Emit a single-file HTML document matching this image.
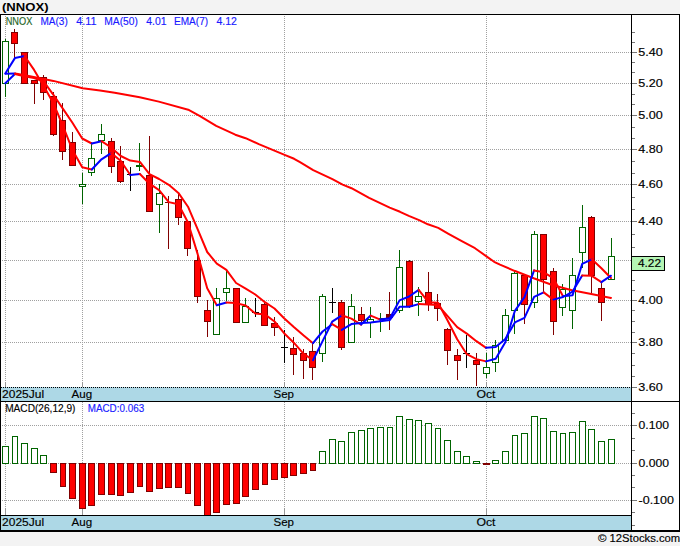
<!DOCTYPE html>
<html><head><meta charset="utf-8"><title>NNOX</title>
<style>html,body{margin:0;padding:0;background:#f3f3f3;}body{width:680px;height:546px;position:relative;overflow:hidden;font-family:"Liberation Sans",sans-serif;}</style>
</head><body>
<svg width="680" height="546" viewBox="0 0 680 546" style="position:absolute;left:0;top:0">
<rect x="0" y="0" width="680" height="546" fill="#f3f3f3"/>
<rect x="0" y="14" width="680" height="518" fill="#ffffff"/>
<rect x="1" y="387" width="630" height="14" fill="#add8e6"/>
<rect x="1" y="516" width="630" height="14" fill="#add8e6"/>
<g stroke="#a0a0a0" stroke-width="1" stroke-dasharray="1,1" shape-rendering="crispEdges">
<line x1="2" x2="631" y1="52.5" y2="52.5"/>
<line x1="2" x2="631" y1="83.5" y2="83.5"/>
<line x1="2" x2="631" y1="115.5" y2="115.5"/>
<line x1="2" x2="631" y1="149.5" y2="149.5"/>
<line x1="2" x2="631" y1="184.5" y2="184.5"/>
<line x1="2" x2="631" y1="221.5" y2="221.5"/>
<line x1="2" x2="631" y1="260.5" y2="260.5"/>
<line x1="2" x2="631" y1="300.5" y2="300.5"/>
<line x1="2" x2="631" y1="342.5" y2="342.5"/>
<line x1="2" x2="631" y1="425.5" y2="425.5"/>
<line x1="2" x2="631" y1="463.5" y2="463.5"/>
<line x1="2" x2="631" y1="500.5" y2="500.5"/>
<line x1="5.5" x2="5.5" y1="16" y2="387"/>
<line x1="5.5" x2="5.5" y1="402" y2="515"/>
<line x1="82.5" x2="82.5" y1="16" y2="387"/>
<line x1="82.5" x2="82.5" y1="402" y2="515"/>
<line x1="284.5" x2="284.5" y1="16" y2="387"/>
<line x1="284.5" x2="284.5" y1="402" y2="515"/>
<line x1="486.5" x2="486.5" y1="16" y2="387"/>
<line x1="486.5" x2="486.5" y1="402" y2="515"/>
</g>
<line x1="1" x2="631" y1="387.5" y2="387.5" stroke="#000" stroke-width="1" stroke-dasharray="1,1" shape-rendering="crispEdges"/>
<g stroke="#999" stroke-width="1" shape-rendering="crispEdges">
<line x1="5.5" x2="5.5" y1="382" y2="387"/>
<line x1="5.5" x2="5.5" y1="508" y2="515"/>
<line x1="82.5" x2="82.5" y1="382" y2="387"/>
<line x1="82.5" x2="82.5" y1="508" y2="515"/>
<line x1="284.5" x2="284.5" y1="382" y2="387"/>
<line x1="284.5" x2="284.5" y1="508" y2="515"/>
<line x1="486.5" x2="486.5" y1="382" y2="387"/>
<line x1="486.5" x2="486.5" y1="508" y2="515"/>
</g>
<g shape-rendering="crispEdges" stroke-width="1">
<rect x="2.5" y="446.5" width="6" height="17.0" fill="#fff" stroke="#006400"/>
<rect x="12.5" y="436.5" width="5" height="27.0" fill="#fff" stroke="#006400"/>
<rect x="21.5" y="443.5" width="6" height="20.0" fill="#fff" stroke="#006400"/>
<rect x="31.5" y="448.5" width="6" height="15.0" fill="#fff" stroke="#006400"/>
<rect x="40.5" y="455.5" width="6" height="8.0" fill="#fff" stroke="#006400"/>
<rect x="50.5" y="463.5" width="6" height="8.5" fill="#ff0000" stroke="#800000"/>
<rect x="60.5" y="463.5" width="5" height="22.5" fill="#ff0000" stroke="#800000"/>
<rect x="69.5" y="463.5" width="6" height="34.5" fill="#ff0000" stroke="#800000"/>
<rect x="79.5" y="463.5" width="6" height="44.5" fill="#ff0000" stroke="#800000"/>
<rect x="88.5" y="463.5" width="6" height="41.5" fill="#ff0000" stroke="#800000"/>
<rect x="98.5" y="463.5" width="6" height="30.5" fill="#ff0000" stroke="#800000"/>
<rect x="108.5" y="463.5" width="6" height="30.5" fill="#ff0000" stroke="#800000"/>
<rect x="117.5" y="463.5" width="6" height="31.5" fill="#ff0000" stroke="#800000"/>
<rect x="127.5" y="463.5" width="6" height="28.5" fill="#ff0000" stroke="#800000"/>
<rect x="137.5" y="463.5" width="5" height="22.5" fill="#ff0000" stroke="#800000"/>
<rect x="146.5" y="463.5" width="6" height="27.5" fill="#ff0000" stroke="#800000"/>
<rect x="156.5" y="463.5" width="6" height="24.5" fill="#ff0000" stroke="#800000"/>
<rect x="165.5" y="463.5" width="6" height="23.5" fill="#ff0000" stroke="#800000"/>
<rect x="175.5" y="463.5" width="6" height="23.5" fill="#ff0000" stroke="#800000"/>
<rect x="185.5" y="463.5" width="5" height="29.5" fill="#ff0000" stroke="#800000"/>
<rect x="194.5" y="463.5" width="6" height="41.5" fill="#ff0000" stroke="#800000"/>
<rect x="204.5" y="463.5" width="6" height="51.5" fill="#ff0000" stroke="#800000"/>
<rect x="213.5" y="463.5" width="6" height="48.5" fill="#ff0000" stroke="#800000"/>
<rect x="223.5" y="463.5" width="6" height="40.5" fill="#ff0000" stroke="#800000"/>
<rect x="233.5" y="463.5" width="6" height="39.5" fill="#ff0000" stroke="#800000"/>
<rect x="242.5" y="463.5" width="6" height="32.5" fill="#ff0000" stroke="#800000"/>
<rect x="252.5" y="463.5" width="6" height="25.5" fill="#ff0000" stroke="#800000"/>
<rect x="262.5" y="463.5" width="5" height="20.5" fill="#ff0000" stroke="#800000"/>
<rect x="271.5" y="463.5" width="6" height="15.5" fill="#ff0000" stroke="#800000"/>
<rect x="281.5" y="463.5" width="6" height="13.5" fill="#ff0000" stroke="#800000"/>
<rect x="290.5" y="463.5" width="6" height="11.5" fill="#ff0000" stroke="#800000"/>
<rect x="300.5" y="463.5" width="6" height="9.5" fill="#ff0000" stroke="#800000"/>
<rect x="310.5" y="463.5" width="5" height="6.5" fill="#ff0000" stroke="#800000"/>
<rect x="319.5" y="451.5" width="6" height="12.0" fill="#fff" stroke="#006400"/>
<rect x="329.5" y="439.5" width="6" height="24.0" fill="#fff" stroke="#006400"/>
<rect x="338.5" y="441.5" width="6" height="22.0" fill="#fff" stroke="#006400"/>
<rect x="348.5" y="432.5" width="6" height="31.0" fill="#fff" stroke="#006400"/>
<rect x="358.5" y="430.5" width="6" height="33.0" fill="#fff" stroke="#006400"/>
<rect x="367.5" y="428.5" width="6" height="35.0" fill="#fff" stroke="#006400"/>
<rect x="377.5" y="427.5" width="6" height="36.0" fill="#fff" stroke="#006400"/>
<rect x="387.5" y="427.5" width="5" height="36.0" fill="#fff" stroke="#006400"/>
<rect x="396.5" y="416.5" width="6" height="47.0" fill="#fff" stroke="#006400"/>
<rect x="406.5" y="419.5" width="6" height="44.0" fill="#fff" stroke="#006400"/>
<rect x="415.5" y="420.5" width="6" height="43.0" fill="#fff" stroke="#006400"/>
<rect x="425.5" y="423.5" width="6" height="40.0" fill="#fff" stroke="#006400"/>
<rect x="435.5" y="428.5" width="5" height="35.0" fill="#fff" stroke="#006400"/>
<rect x="444.5" y="440.5" width="6" height="23.0" fill="#fff" stroke="#006400"/>
<rect x="454.5" y="451.5" width="6" height="12.0" fill="#fff" stroke="#006400"/>
<rect x="463.5" y="456.5" width="6" height="7.0" fill="#fff" stroke="#006400"/>
<rect x="473.5" y="461.5" width="6" height="2.0" fill="#fff" stroke="#006400"/>
<rect x="483" y="463.0" width="7" height="2" fill="#800000" stroke="none"/>
<rect x="492.5" y="460.5" width="6" height="3.0" fill="#fff" stroke="#006400"/>
<rect x="502.5" y="451.5" width="6" height="12.0" fill="#fff" stroke="#006400"/>
<rect x="512.5" y="435.5" width="5" height="28.0" fill="#fff" stroke="#006400"/>
<rect x="521.5" y="433.5" width="6" height="30.0" fill="#fff" stroke="#006400"/>
<rect x="531.5" y="416.5" width="6" height="47.0" fill="#fff" stroke="#006400"/>
<rect x="540.5" y="418.5" width="6" height="45.0" fill="#fff" stroke="#006400"/>
<rect x="550.5" y="431.5" width="6" height="32.0" fill="#fff" stroke="#006400"/>
<rect x="560.5" y="433.5" width="5" height="30.0" fill="#fff" stroke="#006400"/>
<rect x="569.5" y="432.5" width="6" height="31.0" fill="#fff" stroke="#006400"/>
<rect x="579.5" y="421.5" width="6" height="42.0" fill="#fff" stroke="#006400"/>
<rect x="588.5" y="429.5" width="6" height="34.0" fill="#fff" stroke="#006400"/>
<rect x="598.5" y="441.5" width="6" height="22.0" fill="#fff" stroke="#006400"/>
<rect x="608.5" y="439.5" width="6" height="24.0" fill="#fff" stroke="#006400"/>
</g>
<g shape-rendering="crispEdges" stroke-width="1">
<line x1="5.5" x2="5.5" y1="39.0" y2="97.0" stroke="#006400"/>
<rect x="2.5" y="41.5" width="6" height="42.0" fill="#fff" stroke="#006400"/>
<line x1="14.5" x2="14.5" y1="29.0" y2="58.0" stroke="#800000"/>
<rect x="11.5" y="32.5" width="6" height="11.0" fill="#ff0000" stroke="#800000"/>
<line x1="24.5" x2="24.5" y1="52.0" y2="84.0" stroke="#800000"/>
<rect x="21.5" y="52.5" width="6" height="31.0" fill="#ff0000" stroke="#800000"/>
<line x1="34.5" x2="34.5" y1="80.0" y2="104.0" stroke="#800000"/>
<rect x="31.5" y="80.5" width="6" height="3.0" fill="#ff0000" stroke="#800000"/>
<line x1="43.5" x2="43.5" y1="75.0" y2="100.0" stroke="#800000"/>
<rect x="40.5" y="77.5" width="6" height="15.0" fill="#ff0000" stroke="#800000"/>
<line x1="53.5" x2="53.5" y1="92.0" y2="136.0" stroke="#800000"/>
<rect x="50.5" y="96.5" width="6" height="38.0" fill="#ff0000" stroke="#800000"/>
<line x1="62.5" x2="62.5" y1="103.0" y2="160.0" stroke="#800000"/>
<rect x="59.5" y="120.5" width="6" height="31.0" fill="#ff0000" stroke="#800000"/>
<line x1="72.5" x2="72.5" y1="132.0" y2="165.0" stroke="#800000"/>
<rect x="69.5" y="142.5" width="6" height="23.0" fill="#ff0000" stroke="#800000"/>
<line x1="82.5" x2="82.5" y1="173.0" y2="204.0" stroke="#006400"/>
<rect x="79.5" y="184.5" width="6" height="2.0" fill="#fff" stroke="#006400"/>
<line x1="91.5" x2="91.5" y1="142.0" y2="176.0" stroke="#006400"/>
<rect x="88.5" y="158.5" width="6" height="14.0" fill="#fff" stroke="#006400"/>
<line x1="101.5" x2="101.5" y1="124.0" y2="154.0" stroke="#006400"/>
<rect x="98.5" y="134.5" width="6" height="6.0" fill="#fff" stroke="#006400"/>
<line x1="111.5" x2="111.5" y1="138.0" y2="173.0" stroke="#800000"/>
<rect x="108.5" y="141.5" width="6" height="25.0" fill="#ff0000" stroke="#800000"/>
<line x1="120.5" x2="120.5" y1="146.0" y2="183.0" stroke="#800000"/>
<rect x="117.5" y="161.5" width="6" height="20.0" fill="#ff0000" stroke="#800000"/>
<line x1="130.5" x2="130.5" y1="167.0" y2="191.0" stroke="#000"/>
<rect x="127.0" y="174.0" width="7" height="1.0" fill="#000" stroke="none"/>
<line x1="139.5" x2="139.5" y1="143.0" y2="171.0" stroke="#006400"/>
<rect x="136.0" y="165.0" width="7" height="2" fill="#006400" stroke="none"/>
<line x1="149.5" x2="149.5" y1="136.0" y2="212.0" stroke="#800000"/>
<rect x="146.5" y="175.5" width="6" height="36.0" fill="#ff0000" stroke="#800000"/>
<line x1="159.5" x2="159.5" y1="184.0" y2="233.0" stroke="#006400"/>
<rect x="156.5" y="193.5" width="6" height="11.0" fill="#fff" stroke="#006400"/>
<line x1="168.5" x2="168.5" y1="196.0" y2="249.0" stroke="#800000"/>
<rect x="165.0" y="202.0" width="7" height="1.0" fill="#800000" stroke="none"/>
<line x1="178.5" x2="178.5" y1="194.0" y2="225.0" stroke="#800000"/>
<rect x="175.5" y="199.5" width="6" height="18.0" fill="#ff0000" stroke="#800000"/>
<line x1="187.5" x2="187.5" y1="221.0" y2="256.0" stroke="#800000"/>
<rect x="184.5" y="221.5" width="6" height="27.0" fill="#ff0000" stroke="#800000"/>
<line x1="197.5" x2="197.5" y1="250.0" y2="303.0" stroke="#800000"/>
<rect x="194.5" y="260.5" width="6" height="36.0" fill="#ff0000" stroke="#800000"/>
<line x1="207.5" x2="207.5" y1="300.0" y2="337.0" stroke="#800000"/>
<rect x="204.5" y="310.5" width="6" height="11.0" fill="#ff0000" stroke="#800000"/>
<line x1="216.5" x2="216.5" y1="288.0" y2="334.0" stroke="#006400"/>
<rect x="213.5" y="298.5" width="6" height="36.0" fill="#fff" stroke="#006400"/>
<line x1="226.5" x2="226.5" y1="270.0" y2="301.0" stroke="#006400"/>
<rect x="223.5" y="288.5" width="6" height="4.0" fill="#fff" stroke="#006400"/>
<line x1="236.5" x2="236.5" y1="288.0" y2="322.0" stroke="#800000"/>
<rect x="233.5" y="288.5" width="6" height="34.0" fill="#ff0000" stroke="#800000"/>
<line x1="245.5" x2="245.5" y1="298.0" y2="322.0" stroke="#006400"/>
<rect x="242.5" y="306.5" width="6" height="16.0" fill="#fff" stroke="#006400"/>
<line x1="255.5" x2="255.5" y1="298.0" y2="317.0" stroke="#000"/>
<rect x="252.0" y="312.0" width="7" height="1.0" fill="#000" stroke="none"/>
<line x1="264.5" x2="264.5" y1="303.0" y2="326.0" stroke="#800000"/>
<rect x="261.5" y="304.5" width="6" height="21.0" fill="#ff0000" stroke="#800000"/>
<line x1="274.5" x2="274.5" y1="317.0" y2="336.0" stroke="#800000"/>
<rect x="271.5" y="323.5" width="6" height="4.0" fill="#ff0000" stroke="#800000"/>
<line x1="284.5" x2="284.5" y1="330.0" y2="363.0" stroke="#000"/>
<rect x="281.0" y="347.0" width="7" height="1.0" fill="#000" stroke="none"/>
<line x1="293.5" x2="293.5" y1="337.0" y2="375.0" stroke="#800000"/>
<rect x="290.5" y="348.5" width="6" height="6.0" fill="#ff0000" stroke="#800000"/>
<line x1="303.5" x2="303.5" y1="349.0" y2="379.0" stroke="#800000"/>
<rect x="300.5" y="353.5" width="6" height="7.0" fill="#ff0000" stroke="#800000"/>
<line x1="312.5" x2="312.5" y1="343.0" y2="380.0" stroke="#800000"/>
<rect x="309.5" y="351.5" width="6" height="16.0" fill="#ff0000" stroke="#800000"/>
<line x1="322.5" x2="322.5" y1="294.0" y2="362.0" stroke="#006400"/>
<rect x="319.5" y="296.5" width="6" height="57.0" fill="#fff" stroke="#006400"/>
<line x1="332.5" x2="332.5" y1="288.0" y2="313.0" stroke="#000"/>
<rect x="329.0" y="302.0" width="7" height="1.0" fill="#000" stroke="none"/>
<line x1="341.5" x2="341.5" y1="300.0" y2="350.0" stroke="#800000"/>
<rect x="338.5" y="302.5" width="6" height="45.0" fill="#ff0000" stroke="#800000"/>
<line x1="351.5" x2="351.5" y1="294.0" y2="342.0" stroke="#006400"/>
<rect x="348.5" y="306.5" width="6" height="36.0" fill="#fff" stroke="#006400"/>
<line x1="361.5" x2="361.5" y1="307.0" y2="325.0" stroke="#800000"/>
<rect x="358.5" y="314.5" width="6" height="6.0" fill="#ff0000" stroke="#800000"/>
<line x1="370.5" x2="370.5" y1="307.0" y2="338.0" stroke="#006400"/>
<rect x="367.5" y="319.5" width="6" height="3.0" fill="#fff" stroke="#006400"/>
<line x1="380.5" x2="380.5" y1="313.0" y2="332.0" stroke="#006400"/>
<rect x="377.0" y="318.0" width="7" height="1.0" fill="#006400" stroke="none"/>
<line x1="389.5" x2="389.5" y1="292.0" y2="330.0" stroke="#800000"/>
<rect x="386.0" y="314.0" width="7" height="4.0" fill="#800000" stroke="none"/>
<line x1="399.5" x2="399.5" y1="250.0" y2="313.0" stroke="#006400"/>
<rect x="396.5" y="267.5" width="6" height="43.0" fill="#fff" stroke="#006400"/>
<line x1="409.5" x2="409.5" y1="260.0" y2="308.0" stroke="#800000"/>
<rect x="406.5" y="261.5" width="6" height="45.0" fill="#ff0000" stroke="#800000"/>
<line x1="418.5" x2="418.5" y1="287.0" y2="316.0" stroke="#006400"/>
<rect x="415.5" y="296.5" width="6" height="5.0" fill="#fff" stroke="#006400"/>
<line x1="428.5" x2="428.5" y1="272.0" y2="311.0" stroke="#800000"/>
<rect x="425.5" y="292.5" width="6" height="12.0" fill="#ff0000" stroke="#800000"/>
<line x1="437.5" x2="437.5" y1="294.0" y2="321.0" stroke="#800000"/>
<rect x="434.5" y="303.5" width="6" height="5.0" fill="#ff0000" stroke="#800000"/>
<line x1="447.5" x2="447.5" y1="328.0" y2="365.0" stroke="#800000"/>
<rect x="444.5" y="329.5" width="6" height="21.0" fill="#ff0000" stroke="#800000"/>
<line x1="457.5" x2="457.5" y1="349.0" y2="380.0" stroke="#800000"/>
<rect x="454.5" y="355.5" width="6" height="5.0" fill="#ff0000" stroke="#800000"/>
<line x1="466.5" x2="466.5" y1="335.0" y2="368.0" stroke="#000"/>
<rect x="463.0" y="353.0" width="7" height="1.0" fill="#000" stroke="none"/>
<line x1="476.5" x2="476.5" y1="353.0" y2="386.0" stroke="#800000"/>
<rect x="473.5" y="360.5" width="6" height="4.0" fill="#ff0000" stroke="#800000"/>
<line x1="486.5" x2="486.5" y1="353.0" y2="378.0" stroke="#006400"/>
<rect x="483.5" y="367.5" width="6" height="6.0" fill="#fff" stroke="#006400"/>
<line x1="495.5" x2="495.5" y1="340.0" y2="372.0" stroke="#006400"/>
<rect x="492.5" y="345.5" width="6" height="17.0" fill="#fff" stroke="#006400"/>
<line x1="505.5" x2="505.5" y1="309.0" y2="340.0" stroke="#006400"/>
<rect x="502.5" y="315.5" width="6" height="25.0" fill="#fff" stroke="#006400"/>
<line x1="514.5" x2="514.5" y1="271.0" y2="334.0" stroke="#006400"/>
<rect x="511.5" y="273.5" width="6" height="37.0" fill="#fff" stroke="#006400"/>
<line x1="524.5" x2="524.5" y1="274.0" y2="324.0" stroke="#800000"/>
<rect x="521.5" y="275.5" width="6" height="29.0" fill="#ff0000" stroke="#800000"/>
<line x1="534.5" x2="534.5" y1="231.0" y2="308.0" stroke="#006400"/>
<rect x="531.5" y="234.5" width="6" height="68.0" fill="#fff" stroke="#006400"/>
<line x1="543.5" x2="543.5" y1="234.0" y2="292.0" stroke="#800000"/>
<rect x="540.5" y="234.5" width="6" height="45.0" fill="#ff0000" stroke="#800000"/>
<line x1="553.5" x2="553.5" y1="268.0" y2="335.0" stroke="#800000"/>
<rect x="550.5" y="271.5" width="6" height="50.0" fill="#ff0000" stroke="#800000"/>
<line x1="562.5" x2="562.5" y1="284.0" y2="316.0" stroke="#006400"/>
<rect x="559.5" y="289.5" width="6" height="18.0" fill="#fff" stroke="#006400"/>
<line x1="572.5" x2="572.5" y1="258.0" y2="329.0" stroke="#006400"/>
<rect x="569.5" y="275.5" width="6" height="35.0" fill="#fff" stroke="#006400"/>
<line x1="582.5" x2="582.5" y1="205.0" y2="268.0" stroke="#006400"/>
<rect x="579.5" y="227.5" width="6" height="25.0" fill="#fff" stroke="#006400"/>
<line x1="591.5" x2="591.5" y1="216.0" y2="293.0" stroke="#800000"/>
<rect x="588.5" y="217.5" width="6" height="58.0" fill="#ff0000" stroke="#800000"/>
<line x1="601.5" x2="601.5" y1="282.0" y2="321.0" stroke="#800000"/>
<rect x="598.5" y="288.5" width="6" height="14.0" fill="#ff0000" stroke="#800000"/>
<line x1="611.5" x2="611.5" y1="238.0" y2="279.0" stroke="#006400"/>
<rect x="608.5" y="256.5" width="6" height="23.0" fill="#fff" stroke="#006400"/>
</g>
<polyline fill="none" stroke="#0000ff" stroke-width="2" stroke-linejoin="round" stroke-linecap="round" points="5.5,73.8 15.1,73.6"/>
<polyline fill="none" stroke="#ff0000" stroke-width="2" stroke-linejoin="round" stroke-linecap="round" points="15.1,73.6 25.0,75.2 43.6,79.0 53.4,80.9 82.7,88.2 100.0,90.6 114.7,92.8 139.7,97.2 158.8,101.6 188.2,109.7 200.0,116.2 216.2,125.9 235.3,134.7 245.6,138.2 258.8,144.1 284.6,154.9 294.1,158.8 300.0,162.2 313.2,170.1 332.4,179.1 342.6,184.6 351.5,188.2 369.1,197.8 389.7,207.6 400.0,211.8 408.8,215.9 419.1,220.1 427.9,224.3 438.2,227.9 448.5,233.8 461.8,241.2 475.0,248.2 486.8,256.6 494.1,261.8 500.0,264.7 514.4,270.8 533.7,278.3 553.0,285.3 572.0,290.3 591.3,294.1 611.0,297.9"/>
<polyline fill="none" stroke="#0000ff" stroke-width="2" stroke-linejoin="round" stroke-linecap="round" points="5.3,73.5 14.9,58.1 24.5,56.0"/>
<polyline fill="none" stroke="#ff0000" stroke-width="2" stroke-linejoin="round" stroke-linecap="round" points="24.5,56.0 34.1,69.9 43.8,86.2 53.4,103.3 63.0,126.0 72.6,150.3 82.2,167.2 91.8,169.5"/>
<polyline fill="none" stroke="#0000ff" stroke-width="2" stroke-linejoin="round" stroke-linecap="round" points="91.8,169.5 101.5,159.3 111.1,153.1"/>
<polyline fill="none" stroke="#ff0000" stroke-width="2" stroke-linejoin="round" stroke-linecap="round" points="111.1,153.1 120.7,160.8 130.3,175.0"/>
<polyline fill="none" stroke="#0000ff" stroke-width="2" stroke-linejoin="round" stroke-linecap="round" points="130.3,175.0 139.9,174.0"/>
<polyline fill="none" stroke="#ff0000" stroke-width="2" stroke-linejoin="round" stroke-linecap="round" points="139.9,174.0 149.5,183.7 159.1,190.1 168.8,202.1 178.4,204.3 188.0,222.5 197.6,253.9 207.2,288.3 216.8,305.2"/>
<polyline fill="none" stroke="#0000ff" stroke-width="2" stroke-linejoin="round" stroke-linecap="round" points="216.8,305.2 226.4,302.5"/>
<polyline fill="none" stroke="#ff0000" stroke-width="2" stroke-linejoin="round" stroke-linecap="round" points="226.4,302.5 236.1,303.1 245.7,305.5 255.3,313.5 264.9,314.4 274.5,321.5 284.1,333.2 293.8,342.7 303.4,353.7 313.0,360.2"/>
<polyline fill="none" stroke="#0000ff" stroke-width="2" stroke-linejoin="round" stroke-linecap="round" points="313.0,360.2 322.6,341.1 332.2,321.7 341.8,315.3"/>
<polyline fill="none" stroke="#ff0000" stroke-width="2" stroke-linejoin="round" stroke-linecap="round" points="341.8,315.3 351.4,318.6 361.1,324.6"/>
<polyline fill="none" stroke="#0000ff" stroke-width="2" stroke-linejoin="round" stroke-linecap="round" points="361.1,324.6 370.7,315.6"/>
<polyline fill="none" stroke="#ff0000" stroke-width="2" stroke-linejoin="round" stroke-linecap="round" points="370.7,315.6 380.3,319.6"/>
<polyline fill="none" stroke="#0000ff" stroke-width="2" stroke-linejoin="round" stroke-linecap="round" points="380.3,319.6 389.9,318.2 399.5,300.4 409.1,296.5 418.7,289.9"/>
<polyline fill="none" stroke="#ff0000" stroke-width="2" stroke-linejoin="round" stroke-linecap="round" points="418.7,289.9 428.4,302.2 438.0,302.8 447.6,320.5 457.2,339.3 466.8,354.2 476.4,359.1 486.1,361.4"/>
<polyline fill="none" stroke="#0000ff" stroke-width="2" stroke-linejoin="round" stroke-linecap="round" points="486.1,361.4 495.7,358.7 505.3,342.2 514.9,310.8 524.5,297.2 534.1,270.4"/>
<polyline fill="none" stroke="#ff0000" stroke-width="2" stroke-linejoin="round" stroke-linecap="round" points="534.1,270.4 543.7,272.3 553.4,278.1 563.0,296.3"/>
<polyline fill="none" stroke="#0000ff" stroke-width="2" stroke-linejoin="round" stroke-linecap="round" points="563.0,296.3 572.6,295.3 582.2,263.8 591.8,259.3"/>
<polyline fill="none" stroke="#ff0000" stroke-width="2" stroke-linejoin="round" stroke-linecap="round" points="591.8,259.3 601.4,268.2 611.0,278.0"/>
<polyline fill="none" stroke="#0000ff" stroke-width="2" stroke-linejoin="round" stroke-linecap="round" points="5.3,83.2 14.9,74.0"/>
<polyline fill="none" stroke="#ff0000" stroke-width="2" stroke-linejoin="round" stroke-linecap="round" points="14.9,74.0 24.5,76.3 34.1,78.0 43.8,81.6 53.4,94.8 63.0,108.9 72.6,123.0 82.2,138.5 91.8,143.5"/>
<polyline fill="none" stroke="#0000ff" stroke-width="2" stroke-linejoin="round" stroke-linecap="round" points="91.8,143.5 101.5,141.2"/>
<polyline fill="none" stroke="#ff0000" stroke-width="2" stroke-linejoin="round" stroke-linecap="round" points="101.5,141.2 111.1,147.5 120.7,156.0 130.3,160.6 139.9,161.9 149.5,174.1 159.1,179.0 168.8,184.8 178.4,192.9 188.0,206.7 197.6,229.1 207.2,252.0 216.8,263.6 226.4,269.8 236.1,283.0 245.7,288.7 255.3,294.5 264.9,302.2 274.5,308.5 284.1,318.2 293.8,327.0 303.4,335.3 313.0,343.2"/>
<polyline fill="none" stroke="#0000ff" stroke-width="2" stroke-linejoin="round" stroke-linecap="round" points="313.0,343.2 322.6,331.5 332.2,324.2"/>
<polyline fill="none" stroke="#ff0000" stroke-width="2" stroke-linejoin="round" stroke-linecap="round" points="332.2,324.2 341.8,329.9"/>
<polyline fill="none" stroke="#0000ff" stroke-width="2" stroke-linejoin="round" stroke-linecap="round" points="341.8,329.9 351.4,324.1 361.1,323.1 370.7,322.4 380.3,321.3 389.9,320.0 399.5,306.8 409.1,306.7 418.7,304.1"/>
<polyline fill="none" stroke="#ff0000" stroke-width="2" stroke-linejoin="round" stroke-linecap="round" points="418.7,304.1 428.4,304.5 438.0,305.1 447.6,316.2 457.2,327.2 466.8,333.6 476.4,341.2 486.1,347.8"/>
<polyline fill="none" stroke="#0000ff" stroke-width="2" stroke-linejoin="round" stroke-linecap="round" points="486.1,347.8 495.7,347.0 505.3,338.9 514.9,322.4 524.5,317.8 534.1,296.9 543.7,292.4"/>
<polyline fill="none" stroke="#ff0000" stroke-width="2" stroke-linejoin="round" stroke-linecap="round" points="543.7,292.4 553.4,299.6"/>
<polyline fill="none" stroke="#0000ff" stroke-width="2" stroke-linejoin="round" stroke-linecap="round" points="553.4,299.6 563.0,297.0 572.6,291.6 582.2,275.5"/>
<polyline fill="none" stroke="#ff0000" stroke-width="2" stroke-linejoin="round" stroke-linecap="round" points="582.2,275.5 591.8,275.8 601.4,282.1"/>
<polyline fill="none" stroke="#0000ff" stroke-width="2" stroke-linejoin="round" stroke-linecap="round" points="601.4,282.1 611.0,275.7"/>

<g shape-rendering="crispEdges" fill="#000">
<rect x="0" y="14" width="680" height="1"/>
<rect x="0" y="14" width="1" height="518"/>
<rect x="679" y="14" width="1" height="518"/>
<rect x="0" y="530" width="680" height="2"/>
<rect x="631" y="14" width="1" height="517"/>
<rect x="0" y="401" width="680" height="1"/>
<rect x="0" y="515" width="632" height="1"/>
</g>
<g stroke="#777" stroke-width="1" shape-rendering="crispEdges">
<line x1="632" x2="635" y1="32.5" y2="32.5"/>
<line x1="632" x2="635" y1="42.5" y2="42.5"/>
<line x1="632" x2="637" y1="52.5" y2="52.5"/>
<line x1="632" x2="635" y1="62.5" y2="62.5"/>
<line x1="632" x2="635" y1="72.5" y2="72.5"/>
<line x1="632" x2="637" y1="83.5" y2="83.5"/>
<line x1="632" x2="635" y1="94.5" y2="94.5"/>
<line x1="632" x2="635" y1="104.5" y2="104.5"/>
<line x1="632" x2="637" y1="115.5" y2="115.5"/>
<line x1="632" x2="635" y1="127.5" y2="127.5"/>
<line x1="632" x2="635" y1="138.5" y2="138.5"/>
<line x1="632" x2="637" y1="149.5" y2="149.5"/>
<line x1="632" x2="635" y1="161.5" y2="161.5"/>
<line x1="632" x2="635" y1="173.5" y2="173.5"/>
<line x1="632" x2="637" y1="184.5" y2="184.5"/>
<line x1="632" x2="635" y1="197.5" y2="197.5"/>
<line x1="632" x2="635" y1="209.5" y2="209.5"/>
<line x1="632" x2="637" y1="221.5" y2="221.5"/>
<line x1="632" x2="635" y1="234.5" y2="234.5"/>
<line x1="632" x2="635" y1="247.5" y2="247.5"/>
<line x1="632" x2="637" y1="260.5" y2="260.5"/>
<line x1="632" x2="635" y1="270.5" y2="270.5"/>
<line x1="632" x2="635" y1="280.5" y2="280.5"/>
<line x1="632" x2="635" y1="290.5" y2="290.5"/>
<line x1="632" x2="637" y1="300.5" y2="300.5"/>
<line x1="632" x2="635" y1="310.5" y2="310.5"/>
<line x1="632" x2="635" y1="321.5" y2="321.5"/>
<line x1="632" x2="635" y1="332.5" y2="332.5"/>
<line x1="632" x2="637" y1="342.5" y2="342.5"/>
<line x1="632" x2="635" y1="353.5" y2="353.5"/>
<line x1="632" x2="635" y1="365.5" y2="365.5"/>
<line x1="632" x2="635" y1="376.5" y2="376.5"/>
<line x1="632" x2="637" y1="387.5" y2="387.5"/>
<line x1="632" x2="635" y1="413.5" y2="413.5"/>
<line x1="632" x2="637" y1="425.5" y2="425.5"/>
<line x1="632" x2="635" y1="438.5" y2="438.5"/>
<line x1="632" x2="635" y1="450.5" y2="450.5"/>
<line x1="632" x2="637" y1="463.5" y2="463.5"/>
<line x1="632" x2="635" y1="475.5" y2="475.5"/>
<line x1="632" x2="635" y1="487.5" y2="487.5"/>
<line x1="632" x2="637" y1="500.5" y2="500.5"/>
<line x1="632" x2="635" y1="512.5" y2="512.5"/>
<line x1="632" x2="635" y1="525.5" y2="525.5"/>
</g>
<text x="2.0" y="10.8" font-family="Liberation Sans, sans-serif" font-size="11" fill="#000" textLength="46.5" lengthAdjust="spacingAndGlyphs" font-weight="bold">(NNOX)</text>
<text x="5.7" y="25.0" font-family="Liberation Sans, sans-serif" font-size="10.8" fill="#1e641e" stroke="#1e641e" stroke-width="0.15" textLength="26.6" lengthAdjust="spacingAndGlyphs">NNOX</text>
<text x="40.5" y="25.0" font-family="Liberation Sans, sans-serif" font-size="10.8" fill="#1a1aff" stroke="#1a1aff" stroke-width="0.15" textLength="27.3" lengthAdjust="spacingAndGlyphs">MA(3)</text>
<text x="76.3" y="25.0" font-family="Liberation Sans, sans-serif" font-size="10.8" fill="#1a1aff" stroke="#1a1aff" stroke-width="0.15" textLength="20.3" lengthAdjust="spacingAndGlyphs">4.11</text>
<text x="104.3" y="25.0" font-family="Liberation Sans, sans-serif" font-size="10.8" fill="#1a1aff" stroke="#1a1aff" stroke-width="0.15" textLength="33.6" lengthAdjust="spacingAndGlyphs">MA(50)</text>
<text x="146.2" y="25.0" font-family="Liberation Sans, sans-serif" font-size="10.8" fill="#1a1aff" stroke="#1a1aff" stroke-width="0.15" textLength="20.3" lengthAdjust="spacingAndGlyphs">4.01</text>
<text x="174.0" y="25.0" font-family="Liberation Sans, sans-serif" font-size="10.8" fill="#1a1aff" stroke="#1a1aff" stroke-width="0.15" textLength="34.1" lengthAdjust="spacingAndGlyphs">EMA(7)</text>
<text x="216.4" y="25.0" font-family="Liberation Sans, sans-serif" font-size="10.8" fill="#1a1aff" stroke="#1a1aff" stroke-width="0.15" textLength="20.5" lengthAdjust="spacingAndGlyphs">4.12</text>
<text x="638.3" y="56.3" font-family="Liberation Sans, sans-serif" font-size="10.5" fill="#000" stroke="#000" stroke-width="0.15" textLength="24.5" lengthAdjust="spacingAndGlyphs">5.40</text>
<text x="638.3" y="87.3" font-family="Liberation Sans, sans-serif" font-size="10.5" fill="#000" stroke="#000" stroke-width="0.15" textLength="24.5" lengthAdjust="spacingAndGlyphs">5.20</text>
<text x="638.3" y="119.3" font-family="Liberation Sans, sans-serif" font-size="10.5" fill="#000" stroke="#000" stroke-width="0.15" textLength="24.5" lengthAdjust="spacingAndGlyphs">5.00</text>
<text x="638.3" y="153.3" font-family="Liberation Sans, sans-serif" font-size="10.5" fill="#000" stroke="#000" stroke-width="0.15" textLength="24.5" lengthAdjust="spacingAndGlyphs">4.80</text>
<text x="638.3" y="188.3" font-family="Liberation Sans, sans-serif" font-size="10.5" fill="#000" stroke="#000" stroke-width="0.15" textLength="24.5" lengthAdjust="spacingAndGlyphs">4.60</text>
<text x="638.3" y="225.3" font-family="Liberation Sans, sans-serif" font-size="10.5" fill="#000" stroke="#000" stroke-width="0.15" textLength="24.5" lengthAdjust="spacingAndGlyphs">4.40</text>
<text x="638.3" y="264.3" font-family="Liberation Sans, sans-serif" font-size="10.5" fill="#000" stroke="#000" stroke-width="0.15" textLength="24.5" lengthAdjust="spacingAndGlyphs">4.20</text>
<text x="638.3" y="304.3" font-family="Liberation Sans, sans-serif" font-size="10.5" fill="#000" stroke="#000" stroke-width="0.15" textLength="24.5" lengthAdjust="spacingAndGlyphs">4.00</text>
<text x="638.3" y="346.3" font-family="Liberation Sans, sans-serif" font-size="10.5" fill="#000" stroke="#000" stroke-width="0.15" textLength="24.5" lengthAdjust="spacingAndGlyphs">3.80</text>
<text x="638.3" y="391.3" font-family="Liberation Sans, sans-serif" font-size="10.5" fill="#000" stroke="#000" stroke-width="0.15" textLength="24.5" lengthAdjust="spacingAndGlyphs">3.60</text>
<text x="638.5" y="428.9" font-family="Liberation Sans, sans-serif" font-size="10.5" fill="#000" stroke="#000" stroke-width="0.15" textLength="30.5" lengthAdjust="spacingAndGlyphs">0.100</text>
<text x="638.5" y="466.6" font-family="Liberation Sans, sans-serif" font-size="10.5" fill="#000" stroke="#000" stroke-width="0.15" textLength="30.5" lengthAdjust="spacingAndGlyphs">0.000</text>
<text x="638.5" y="504.2" font-family="Liberation Sans, sans-serif" font-size="10.5" fill="#000" stroke="#000" stroke-width="0.15" textLength="35.5" lengthAdjust="spacingAndGlyphs">-0.100</text>
<rect x="631.5" y="256.5" width="33" height="14" fill="#b4f5b4" stroke="#000" stroke-width="1" shape-rendering="crispEdges"/>
<text x="637.9" y="267.3" font-family="Liberation Sans, sans-serif" font-size="10.5" fill="#000" stroke="#000" stroke-width="0.15" textLength="23.2" lengthAdjust="spacingAndGlyphs">4.22</text>
<text x="2.1" y="398.0" font-family="Liberation Sans, sans-serif" font-size="11.2" fill="#000" stroke="#000" stroke-width="0.15" textLength="42.0" lengthAdjust="spacingAndGlyphs">2025Jul</text>
<text x="71.5" y="398.0" font-family="Liberation Sans, sans-serif" font-size="11.2" fill="#000" stroke="#000" stroke-width="0.15" textLength="20.6" lengthAdjust="spacingAndGlyphs">Aug</text>
<text x="273.5" y="398.0" font-family="Liberation Sans, sans-serif" font-size="11.2" fill="#000" stroke="#000" stroke-width="0.15" textLength="20.5" lengthAdjust="spacingAndGlyphs">Sep</text>
<text x="476.5" y="398.0" font-family="Liberation Sans, sans-serif" font-size="11.2" fill="#000" stroke="#000" stroke-width="0.15" textLength="19.0" lengthAdjust="spacingAndGlyphs">Oct</text>
<text x="2.1" y="526.0" font-family="Liberation Sans, sans-serif" font-size="11.2" fill="#000" stroke="#000" stroke-width="0.15" textLength="42.0" lengthAdjust="spacingAndGlyphs">2025Jul</text>
<text x="71.5" y="526.0" font-family="Liberation Sans, sans-serif" font-size="11.2" fill="#000" stroke="#000" stroke-width="0.15" textLength="20.6" lengthAdjust="spacingAndGlyphs">Aug</text>
<text x="273.5" y="526.0" font-family="Liberation Sans, sans-serif" font-size="11.2" fill="#000" stroke="#000" stroke-width="0.15" textLength="20.5" lengthAdjust="spacingAndGlyphs">Sep</text>
<text x="476.5" y="526.0" font-family="Liberation Sans, sans-serif" font-size="11.2" fill="#000" stroke="#000" stroke-width="0.15" textLength="19.0" lengthAdjust="spacingAndGlyphs">Oct</text>
<text x="5.2" y="412.3" font-family="Liberation Sans, sans-serif" font-size="10.8" fill="#000" stroke="#000" stroke-width="0.15" textLength="70.3" lengthAdjust="spacingAndGlyphs">MACD(26,12,9)</text>
<text x="87.7" y="412.3" font-family="Liberation Sans, sans-serif" font-size="10.8" fill="#1a1aff" stroke="#1a1aff" stroke-width="0.15" textLength="56.5" lengthAdjust="spacingAndGlyphs">MACD:0.063</text>
<text x="598.0" y="542.0" font-family="Liberation Sans, sans-serif" font-size="11" fill="#000" stroke="#000" stroke-width="0.15" textLength="8.5" lengthAdjust="spacingAndGlyphs">©</text>
<text x="609.6" y="542.0" font-family="Liberation Sans, sans-serif" font-size="11" fill="#000" stroke="#000" stroke-width="0.15" textLength="70.6" lengthAdjust="spacingAndGlyphs">12Stocks.com</text>
</svg>
</body></html>
